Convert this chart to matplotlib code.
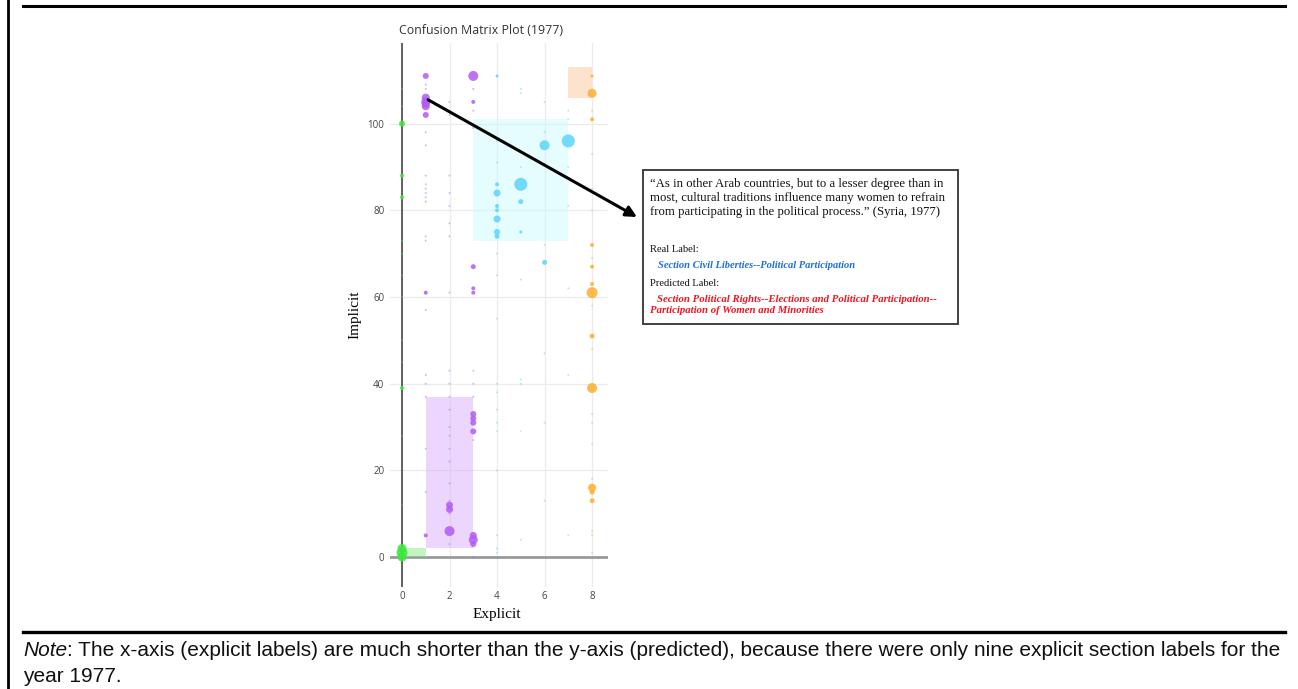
import matplotlib
matplotlib.use("Agg")
import matplotlib.pyplot as plt
from matplotlib.patches import Rectangle
from matplotlib.lines import Line2D
from matplotlib import font_manager

W, H = 1298, 689
DPI = 100

# ---- data -------------------------------------------------------------
title = "Confusion Matrix Plot (1977)"
x_ticks = [0, 2, 4, 6, 8]
y_ticks = [0, 20, 40, 60, 80, 100]

# class blocks (explicit range x0..x1, implicit range y0..y1)
block_x0 = [0, 1, 3, 7]
block_x1 = [1, 3, 7, 8]
block_y0 = [0, 2, 73, 106]
block_y1 = [2, 37, 101, 113]
block_colors = ["#7de87d", "#d9a6fb", "#c6fbfd", "#fbc08f"]

# bubbles: explicit label, implicit label, count
green_x = [0, 0, 0, 0, 0, 0, 0]
green_y = [100, 88, 83, 39, 2, 1, 0]
green_n = [6, 4, 4, 4, 9, 11, 9]

purple_x = [1, 1, 1, 1, 1, 1, 1, 1, 2, 2, 2, 3, 3, 3, 3, 3, 3, 3, 3, 3, 3, 3, 3]
purple_y = [111, 106, 105, 104.5, 104, 102, 61, 5, 12, 11, 6,
            111, 105, 67, 62, 61, 33, 32, 31, 29, 5, 4, 3]
purple_n = [6, 8, 9, 8, 8, 6, 4, 4, 7, 7, 10,
            10, 4, 5, 4, 4, 6, 6, 6, 6, 7, 9, 6]

cyan_x = [4, 4, 4, 4, 4, 4, 4, 4, 5, 5, 5, 6, 6, 7]
cyan_y = [111, 86, 84, 81, 80, 78, 75, 74, 86, 82, 75, 95, 68, 96]
cyan_n = [3, 4, 7, 4, 4, 7, 6, 5, 13, 5, 3, 10, 5, 13]

orange_x = [8] * 12
orange_y = [111, 107, 101, 72, 67, 63, 61, 51, 39, 16, 15, 13]
orange_n = [3, 9, 4, 4, 4, 4, 11, 5, 10, 8, 5, 5]

# single-sentence cells (faint dots)
faint_purple_x = [1] * 18 + [2] * 20 + [3] * 8
faint_purple_y = [109, 108, 98, 95, 88, 86, 85, 84, 83, 82, 74, 73, 57, 42, 40, 37, 25, 15,
                  105, 102, 88, 84, 81, 77, 74, 61, 43, 40, 37, 34, 30, 28, 25, 22, 17, 13, 10, 3,
                  108, 103, 99, 43, 40, 37, 27, 0]
faint_cyan_x = [4] * 14 + [5] * 8 + [6] * 6 + [7] * 7
faint_cyan_y = [96, 91, 70, 65, 55, 40, 38, 34, 31, 29, 20, 5, 2, 1,
                108, 107, 90, 64, 41, 40, 29, 4,
                105, 98, 72, 47, 31, 13,
                103, 101, 90, 81, 62, 42, 5]
faint_orange_x = [8] * 14
faint_orange_y = [103, 93, 85, 80, 69, 58, 48, 33, 31, 26, 18, 6, 5, 1]
faint_green_x = [0] * 10
faint_green_y = [108, 104, 73, 70, 65, 60, 50, 45, 28, 12]

note_italic = "Note"
note_rest = (": The x-axis (explicit labels) are much shorter than the y-axis (predicted), "
             "because there were only nine explicit section labels for the")
note_line2 = "year 1977."

quote_lines = [
    "\u201cAs in other Arab countries, but to a lesser degree than in",
    "most, cultural traditions influence many women to refrain",
    "from participating in the political process.\u201d (Syria, 1977)",
]
real_label = "Section Civil Liberties--Political Participation"
pred_label_lines = ["Section Political Rights--Elections and Political Participation--",
                    "Participation of Women and Minorities"]

PURPLE = "#b15cf3"
CYAN = "#5dd3fb"
ORANGE = "#ffae2e"
GREEN = "#3ce83c"


# ---- helpers ----------------------------------------------------------
def fx(px):
    return px / W


def fy(py):
    return 1 - py / H


def msize(counts):
    # bubble diameter grows linearly with count (1 count ~ 1 px)
    return [(c * 72.0 / DPI) ** 2 for c in counts]


def pick_family(names):
    for n in names:
        try:
            font_manager.findfont(font_manager.FontProperties(family=n),
                                  fallback_to_default=False)
            return n
        except Exception:
            continue
    return "DejaVu Sans"


fig = plt.figure(figsize=(W / DPI, H / DPI), dpi=DPI)
fig.patch.set_facecolor("white")

# axes area
ax_l, ax_r, ax_t, ax_b = 390, 608, 43, 587
ax = fig.add_axes([fx(ax_l), fy(ax_b), (ax_r - ax_l) / W, (ax_b - ax_t) / H])
ax.set_xlim(-0.505, 8.67)
ax.set_ylim(-6.9, 118.6)
for s in ax.spines.values():
    s.set_visible(False)

ax.set_xticks(x_ticks)
ax.set_yticks(y_ticks)
ax.tick_params(length=0, labelsize=7.0, labelcolor="#444444")
ax.tick_params(axis="x", pad=3)
ax.tick_params(axis="y", pad=4)
for lab in ax.get_xticklabels() + ax.get_yticklabels():
    lab.set_family("Open Sans")
ax.grid(True, color="#ebebeb", lw=0.9, zorder=0)
ax.set_axisbelow(True)

# zero lines
ax.axhline(0, color="#9a9a9a", lw=2.0, zorder=1)
ax.axvline(0, color="#555555", lw=1.3, zorder=1)

# class blocks
for x0, x1, y0, y1, c in zip(block_x0, block_x1, block_y0, block_y1, block_colors):
    ax.add_patch(Rectangle((x0, y0), x1 - x0, y1 - y0, facecolor=c, alpha=0.45,
                           edgecolor="none", zorder=2))

# faint dots
for xs, ys, c in [(faint_purple_x, faint_purple_y, PURPLE),
                  (faint_cyan_x, faint_cyan_y, CYAN),
                  (faint_orange_x, faint_orange_y, ORANGE),
                  (faint_green_x, faint_green_y, GREEN)]:
    ax.scatter(xs, ys, s=msize([2] * len(xs)), color=c, alpha=0.45, lw=0, zorder=3)

# bubbles
for xs, ys, ns, c in [(green_x, green_y, green_n, GREEN),
                      (purple_x, purple_y, purple_n, PURPLE),
                      (cyan_x, cyan_y, cyan_n, CYAN),
                      (orange_x, orange_y, orange_n, ORANGE)]:
    ax.scatter(xs, ys, s=msize(ns), color=c, alpha=0.85, lw=0, zorder=4)

# title and axis labels
fig.text(fx(481), fy(31), title, ha="center", va="center", fontsize=8.9,
         family="Open Sans", color="#333333")
fig.text(fx(497), fy(608), "Explicit", ha="center", va="top", fontsize=11,
         family="Liberation Serif", color="black")
fig.text(fx(355), fy(315), "Implicit", ha="center", va="center", fontsize=11,
         family="Liberation Serif", color="black", rotation=90)

# example sentence box with arrow
box_l, box_t, box_r, box_b = 643, 170, 958, 324
fig.patches.append(Rectangle((fx(box_l), fy(box_b)), (box_r - box_l) / W, (box_b - box_t) / H,
                             transform=fig.transFigure, facecolor="white",
                             edgecolor="#333333", lw=1.3, zorder=5))
for i, line in enumerate(quote_lines):
    fig.text(fx(650), fy(184 + 14 * i), line, ha="left", va="center", fontsize=9.2,
             family="Liberation Serif", color="#111111", zorder=6)
fig.text(fx(650), fy(249), "Real Label:", ha="left", va="center", fontsize=7.6,
         family="Liberation Serif", color="#111111", zorder=6)
fig.text(fx(658), fy(266), real_label, ha="left", va="center", fontsize=7.6,
         family="Liberation Serif", style="italic", weight="bold", color="#1f6fd8", zorder=6)
fig.text(fx(650), fy(283), "Predicted Label:", ha="left", va="center", fontsize=7.6,
         family="Liberation Serif", color="#111111", zorder=6)
fig.text(fx(657), fy(299), pred_label_lines[0], ha="left", va="center", fontsize=7.75,
         family="Liberation Serif", style="italic", weight="bold", color="#f0141e", zorder=6)
fig.text(fx(650), fy(311), pred_label_lines[1], ha="left", va="center", fontsize=7.75,
         family="Liberation Serif", style="italic", weight="bold", color="#f0141e", zorder=6)

ax.annotate("", xy=(fx(637), fy(217)), xycoords="figure fraction",
            xytext=(1.1, 105.5), textcoords="data",
            arrowprops=dict(arrowstyle="-|>", lw=2.2, color="black",
                            mutation_scale=16, shrinkA=0, shrinkB=0),
            annotation_clip=False, zorder=7)

# page frame
fig.lines.append(Line2D([fx(7.5), fx(7.5)], [fy(0), fy(689)], transform=fig.transFigure,
                        color="black", lw=2.0))
fig.lines.append(Line2D([fx(23), fx(1285)], [fy(5.5), fy(5.5)], transform=fig.transFigure,
                        color="black", lw=2.2))
fig.lines.append(Line2D([fx(23), fx(1285)], [fy(632), fy(632)], transform=fig.transFigure,
                        color="black", lw=2.4))

# note below the chart, sized so the first line spans the page width
renderer = fig.canvas.get_renderer()
note_family = pick_family(["Liberation Sans Narrow", "Liberation Sans"])
target_w = 1283 - 23


def note_width(fs):
    a = fig.text(0, 0, note_italic, fontsize=fs, family=note_family, style="italic")
    b = fig.text(0, 0, note_rest, fontsize=fs, family=note_family)
    w = a.get_window_extent(renderer).width + b.get_window_extent(renderer).width
    a.remove()
    b.remove()
    return w


note_fs = 12.0 * target_w / note_width(12.0)
t1 = fig.text(fx(23), fy(651), note_italic, ha="left", va="center", fontsize=note_fs,
              family=note_family, style="italic", color="#111111")
bb = t1.get_window_extent(renderer=renderer)
fig.text(bb.x1 / W, fy(651), note_rest, ha="left", va="center", fontsize=note_fs,
         family=note_family, color="#111111")
fig.text(fx(23), fy(676), note_line2, ha="left", va="center", fontsize=note_fs,
         family=note_family, color="#111111")

fig.savefig("out.png", dpi=DPI)
